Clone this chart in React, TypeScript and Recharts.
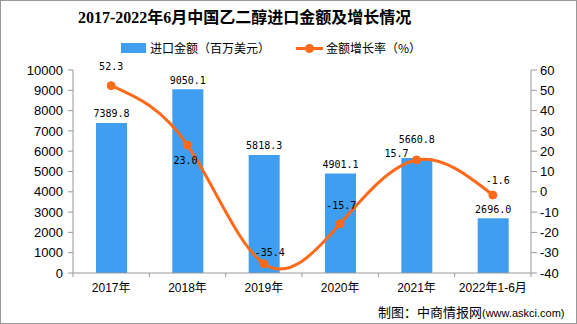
import React from 'react';
import { ComposedChart, Bar, Line, XAxis, YAxis, LabelList } from 'recharts';

const categories = ['2017年', '2018年', '2019年', '2020年', '2021年', '2022年1-6月'];
const importValue = [7389.8, 9050.1, 5818.3, 4901.1, 5660.8, 2696.0];
const growthRate = [52.3, 23.0, -35.4, -15.7, 15.7, -1.6];
const leftTicks = [0, 1000, 2000, 3000, 4000, 5000, 6000, 7000, 8000, 9000, 10000];
const rightTicks = [-40, -30, -20, -10, 0, 10, 20, 30, 40, 50, 60];

// label placement tweaks (dx, dy relative to the anchor)
const rateLabelShift: [number, number][] = [
  [0, -19],
  [-2, 15],
  [6, -11],
  [1, -18],
  [-20, -6],
  [5, -15],
];
const barLabelLift = [0, 0, 0, 0, 10, 0];

const data = categories.map((name, i) => ({
  name,
  value: importValue[i],
  rate: growthRate[i],
}));

const BAR_COLOR = '#3F9EF0';
const LINE_COLOR = '#FF6A1A';
const AXIS_COLOR = '#999999';
const MONO = '"DejaVu Sans Mono", "Liberation Mono", monospace';
const SANS = '"Liberation Sans", Arial, "Noto Sans CJK SC", sans-serif';
const CJK = '"Noto Sans CJK SC", sans-serif';

const XTick = (props: any) => {
  const { x, y, payload, index, visibleTicksCount } = props;
  const off = payload && payload.offset ? payload.offset : 0;
  const last = index === (visibleTicksCount ?? categories.length) - 1;
  return (
    <g>
      <line x1={x - off} x2={x - off} y1={y} y2={y + 4} stroke={AXIS_COLOR} strokeWidth={1} />
      {last && (
        <line x1={x + off} x2={x + off} y1={y} y2={y + 4} stroke={AXIS_COLOR} strokeWidth={1} />
      )}
      <text
        x={x}
        y={y + 15}
        textAnchor="middle"
        dominantBaseline="central"
        fontSize={12}
        fontFamily={SANS}
        fill="#000"
      >
        {payload.value}
      </text>
    </g>
  );
};

const RateLabel = (props: any) => {
  const { x, y, value, index } = props;
  const [dx, dy] = rateLabelShift[index] || [0, -15];
  return (
    <text
      x={x + dx}
      y={y + dy}
      textAnchor="middle"
      dominantBaseline="central"
      fontSize={10}
      fontFamily={MONO}
      fill="#000"
    >
      {Number(value).toFixed(1)}
    </text>
  );
};

const BarLabel = (props: any) => {
  const { x, y, width, value, index } = props;
  const lift = barLabelLift[index] || 0;
  return (
    <text
      x={x + width / 2}
      y={y - 9 - lift}
      textAnchor="middle"
      dominantBaseline="central"
      fontSize={10}
      fontFamily={MONO}
      fill="#000"
    >
      {Number(value).toFixed(1)}
    </text>
  );
};

export default function App() {
  return (
    <div
      style={{
        position: 'fixed',
        left: 0,
        top: 0,
        width: 577,
        height: 324,
        background: '#fff',
        border: '1px solid #999',
        boxSizing: 'border-box',
        overflow: 'hidden',
      }}
    >
      <div
        style={{
          position: 'absolute',
          left: 77,
          top: 7,
          fontSize: 16,
          lineHeight: '20px',
          fontWeight: 'bold',
          fontFamily: '"Liberation Serif", "Times New Roman", "Noto Sans CJK SC", serif',
          color: '#000',
          whiteSpace: 'nowrap',
        }}
      >
        2017-2022年6月中国乙二醇进口金额及增长情况
      </div>

      {/* legend */}
      <div style={{ position: 'absolute', left: 120, top: 42, width: 25, height: 10, background: BAR_COLOR }} />
      <div
        style={{
          position: 'absolute',
          left: 149,
          top: 39,
          fontSize: 12,
          lineHeight: '16px',
          fontFamily: CJK,
          color: '#000',
          whiteSpace: 'nowrap',
        }}
      >
        进口金额（百万美元）
      </div>
      <div style={{ position: 'absolute', left: 295, top: 46, width: 27, height: 3, background: LINE_COLOR }} />
      <div
        style={{
          position: 'absolute',
          left: 304,
          top: 43,
          width: 9,
          height: 9,
          borderRadius: '50%',
          background: LINE_COLOR,
        }}
      />
      <div
        style={{
          position: 'absolute',
          left: 325,
          top: 39,
          fontSize: 12,
          lineHeight: '16px',
          fontFamily: CJK,
          color: '#000',
          whiteSpace: 'nowrap',
        }}
      >
        金额增长率（%）
      </div>

      <ComposedChart
        width={577}
        height={324}
        data={data}
        margin={{ top: 70, right: 0, bottom: 0, left: 0 }}
        style={{ position: 'absolute', left: -1, top: -1 }}
      >
        <XAxis
          dataKey="name"
          stroke={AXIS_COLOR}
          tickLine={false}
          tickSize={0}
          tickMargin={0}
          interval={0}
          tick={<XTick />}
          height={51}
        />
        <YAxis
          yAxisId="left"
          domain={[0, 10000]}
          ticks={leftTicks}
          width={73}
          stroke={AXIS_COLOR}
          tickSize={5}
          tickMargin={5}
          interval={0}
          tick={{ fill: '#000', fontSize: 13, fontFamily: SANS }}
          allowDataOverflow
        />
        <YAxis
          yAxisId="right"
          orientation="right"
          domain={[-40, 60]}
          ticks={rightTicks}
          width={46}
          stroke={AXIS_COLOR}
          tickSize={6}
          tickMargin={3}
          interval={0}
          tick={{ fill: '#000', fontSize: 13, fontFamily: SANS }}
          allowDataOverflow
        />
        <Bar yAxisId="left" dataKey="value" fill={BAR_COLOR} barSize={31} isAnimationActive={false}>
          <LabelList dataKey="value" content={<BarLabel />} />
        </Bar>
        <Line
          yAxisId="right"
          type="natural"
          dataKey="rate"
          stroke={LINE_COLOR}
          strokeWidth={3}
          dot={{ r: 4, fill: LINE_COLOR, stroke: LINE_COLOR, strokeWidth: 1 }}
          activeDot={false}
          isAnimationActive={false}
        >
          <LabelList dataKey="rate" content={<RateLabel />} />
        </Line>
      </ComposedChart>

      <div
        style={{
          position: 'absolute',
          left: 377,
          top: 303,
          fontSize: 13,
          lineHeight: '16px',
          fontFamily: CJK,
          color: '#000',
          whiteSpace: 'nowrap',
        }}
      >
        制图：中商情报网
        <span style={{ fontSize: 11, fontFamily: SANS }}>(www.askci.com)</span>
      </div>
    </div>
  );
}
